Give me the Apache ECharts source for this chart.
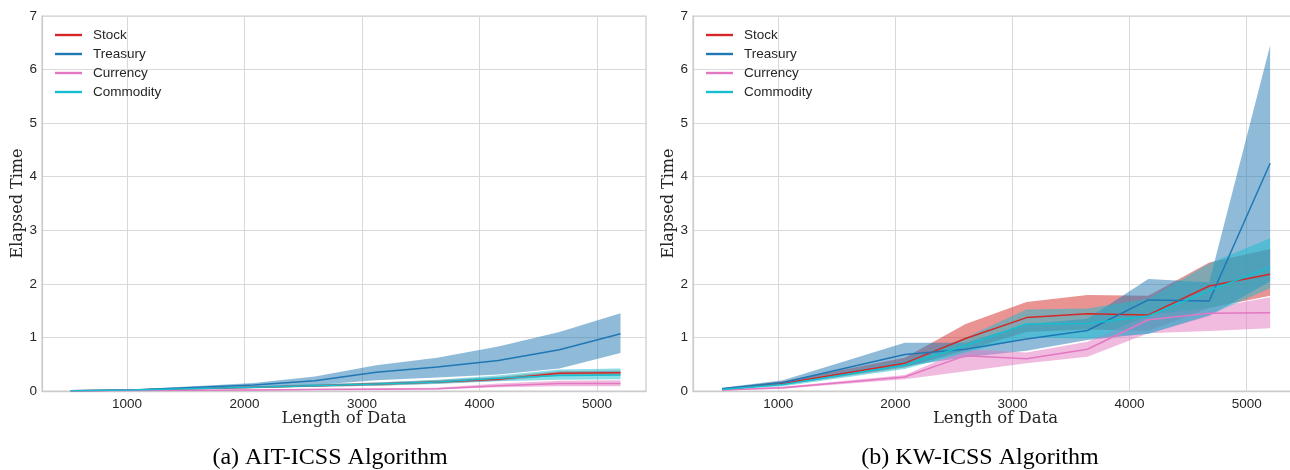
<!DOCTYPE html>
<html><head><meta charset="utf-8">
<script src="https://cdn.jsdelivr.net/npm/echarts@6/dist/echarts.min.js"></script>
<style>html,body{margin:0;padding:0;background:#fff}#c{width:1290px;height:470px}</style>
</head><body><div id="c"></div>
<script>
// ---- data ----
const lengths = [520, 1040, 2080, 2600, 3120, 3640, 4160, 4680, 5200];
const seriesNames = ['Stock', 'Treasury', 'Currency', 'Commodity'];
const seriesColors = ['#d62728', '#1f77b4', '#e377c2', '#17becf'];
const xTicks = [1000, 2000, 3000, 4000, 5000];
const captions = ['(a) AIT-ICSS Algorithm', '(b) KW-ICSS Algorithm'];

// (a) AIT-ICSS
const aitStockMean  = [0.005, 0.02, 0.07, 0.10, 0.13, 0.17, 0.22, 0.33, 0.34];
const aitStockLow   = [0.003, 0.01, 0.05, 0.08, 0.10, 0.14, 0.19, 0.29, 0.30];
const aitStockHigh  = [0.007, 0.03, 0.09, 0.12, 0.16, 0.20, 0.26, 0.37, 0.38];
const aitTreasMean  = [0.005, 0.02, 0.11, 0.19, 0.35, 0.45, 0.57, 0.77, 1.07];
const aitTreasLow   = [0.003, 0.01, 0.07, 0.11, 0.20, 0.25, 0.31, 0.42, 0.71];
const aitTreasHigh  = [0.007, 0.03, 0.15, 0.27, 0.48, 0.62, 0.83, 1.10, 1.45];
const aitCurrMean   = [0.002, 0.008, 0.02, 0.03, 0.035, 0.04, 0.10, 0.14, 0.14];
const aitCurrLow    = [0.001, 0.005, 0.01, 0.02, 0.025, 0.03, 0.07, 0.09, 0.09];
const aitCurrHigh   = [0.003, 0.012, 0.03, 0.04, 0.05, 0.06, 0.14, 0.19, 0.20];
const aitCommMean   = [0.005, 0.02, 0.07, 0.10, 0.13, 0.17, 0.24, 0.29, 0.30];
const aitCommLow    = [0.003, 0.01, 0.05, 0.08, 0.10, 0.13, 0.18, 0.21, 0.22];
const aitCommHigh   = [0.007, 0.03, 0.09, 0.13, 0.16, 0.21, 0.29, 0.40, 0.42];

// (b) KW-ICSS
const kwStockMean   = [0.03, 0.14, 0.52, 0.98, 1.37, 1.44, 1.42, 1.96, 2.18];
const kwStockLow    = [0.02, 0.11, 0.44, 0.76, 1.10, 1.15, 1.12, 1.55, 1.78];
const kwStockHigh   = [0.05, 0.18, 0.62, 1.25, 1.66, 1.79, 1.78, 2.40, 2.65];
const kwTreasMean   = [0.04, 0.16, 0.68, 0.78, 0.97, 1.13, 1.70, 1.68, 4.25];
const kwTreasLow    = [0.02, 0.12, 0.46, 0.63, 0.75, 0.95, 1.07, 1.40, 2.05];
const kwTreasHigh   = [0.06, 0.20, 0.90, 0.90, 1.25, 1.35, 2.09, 2.03, 6.45];
const kwCurrMean    = [0.02, 0.06, 0.26, 0.66, 0.60, 0.78, 1.33, 1.45, 1.46];
const kwCurrLow     = [0.01, 0.04, 0.22, 0.37, 0.52, 0.64, 1.08, 1.12, 1.17];
const kwCurrHigh    = [0.03, 0.08, 0.30, 0.78, 0.72, 0.92, 1.42, 1.55, 1.75];
const kwCommMean    = [0.03, 0.12, 0.48, 0.85, 1.25, 1.26, 1.40, 1.87, 2.31];
const kwCommLow     = [0.02, 0.09, 0.41, 0.72, 1.00, 0.98, 1.07, 1.42, 1.92];
const kwCommHigh    = [0.04, 0.15, 0.56, 1.00, 1.52, 1.54, 1.72, 2.38, 2.85];

const panels = [
  { means: [aitStockMean, aitTreasMean, aitCurrMean, aitCommMean],
    lows:  [aitStockLow, aitTreasLow, aitCurrLow, aitCommLow],
    highs: [aitStockHigh, aitTreasHigh, aitCurrHigh, aitCommHigh] },
  { means: [kwStockMean, kwTreasMean, kwCurrMean, kwCommMean],
    lows:  [kwStockLow, kwTreasLow, kwCurrLow, kwCommLow],
    highs: [kwStockHigh, kwTreasHigh, kwCurrHigh, kwCommHigh] }
];

// ---- layout ----
const grids = [
  { left: 42, top: 16, width: 604, height: 375 },
  { left: 693, top: 16, width: 605, height: 375 }
];
const xRanges = [[277, 5417], [272, 5438]];
const textColor = '#262626';
const sans = 'Liberation Sans';
const serif = 'DejaVu Serif';

function bandSeries(gi, si, p) {
  const data = lengths.map((x, i) => [x, p.lows[si][i], p.highs[si][i]]);
  const color = seriesColors[si];
  return {
    type: 'custom', name: seriesNames[si] + ' band ' + gi,
    xAxisIndex: gi, yAxisIndex: gi, silent: true, z: 2, clip: true,
    encode: { x: 0, y: [1, 2] },
    data: data,
    renderItem: function (params, api) {
      if (params.dataIndex !== 0) return null;
      const top = data.map(d => api.coord([d[0], d[2]]));
      const bot = data.map(d => api.coord([d[0], d[1]])).reverse();
      return {
        type: 'polygon',
        shape: { points: top.concat(bot) },
        style: { fill: color, opacity: 0.5, stroke: null }
      };
    }
  };
}

const xAxes = [], yAxes = [], series = [], legends = [];
const lineIcon = 'path://M0,0 L27,0 L27,2.4 L0,2.4 Z';
panels.forEach((p, gi) => {
  xAxes.push({
    type: 'value', gridIndex: gi, min: xRanges[gi][0], max: xRanges[gi][1],
    axisLine: { show: true, lineStyle: { color: '#cccccc', width: 1.25 } },
    axisTick: { show: false, customValues: xTicks },
    axisLabel: { customValues: xTicks, color: textColor, fontSize: 13.5, fontFamily: sans, margin: 6,
                 formatter: v => String(v) },
    splitLine: { show: true, lineStyle: { color: '#d9d9d9', width: 1 } },
    name: 'Length of Data', nameLocation: 'middle', nameGap: 19, nameMoveOverlap: false,
    nameTextStyle: { fontFamily: serif, fontSize: 16.5, color: textColor }
  });
  yAxes.push({
    type: 'value', gridIndex: gi, min: 0, max: 7, interval: 1,
    axisLine: { show: true, lineStyle: { color: '#cccccc', width: 1.25 } },
    axisTick: { show: false },
    axisLabel: { color: textColor, fontSize: 13.5, fontFamily: sans, margin: 5 },
    splitLine: { show: true, lineStyle: { color: '#d9d9d9', width: 1 } },
    name: 'Elapsed Time', nameLocation: 'middle', nameGap: 16.5, nameRotate: 90, nameMoveOverlap: false,
    nameTextStyle: { fontFamily: serif, fontSize: 16, color: textColor }
  });
  seriesNames.forEach((nm, si) => series.push(bandSeries(gi, si, p)));
  seriesNames.forEach((nm, si) => {
    series.push({
      type: 'line', name: nm, xAxisIndex: gi, yAxisIndex: gi, z: 3,
      symbol: 'none', showSymbol: false, color: seriesColors[si],
      lineStyle: { width: 1.5, color: seriesColors[si] },
      data: lengths.map((x, i) => [x, p.means[si][i]])
    });
  });
  legends.push({
    data: seriesNames.map(n => ({ name: n, icon: lineIcon })), orient: 'vertical',
    left: grids[gi].left + 8, top: 23,
    itemWidth: 27, itemHeight: 14, itemGap: 5,
    textStyle: { color: textColor, fontSize: 13.5, fontFamily: sans, padding: [0, 0, 0, 6] },
    selectedMode: false
  });
});

const chart = echarts.init(document.getElementById('c'), null, { renderer: 'canvas' });
chart.setOption({
  animation: false,
  backgroundColor: '#ffffff',
  grid: grids.map(g => Object.assign({ show: true, borderColor: '#cccccc', borderWidth: 1.25,
    backgroundColor: 'transparent', outerBoundsMode: 'none', containLabel: false }, g)),
  xAxis: xAxes, yAxis: yAxes, legend: legends, series: series,
  graphic: [
    { type: 'text', x: 330, y: 458, style: { text: captions[0], align: 'center', verticalAlign: 'middle', font: '24px "Liberation Serif"', fill: '#000' } },
    { type: 'text', x: 980, y: 458, style: { text: captions[1], align: 'center', verticalAlign: 'middle', font: '24px "Liberation Serif"', fill: '#000' } }
  ]
});
</script></body></html>
